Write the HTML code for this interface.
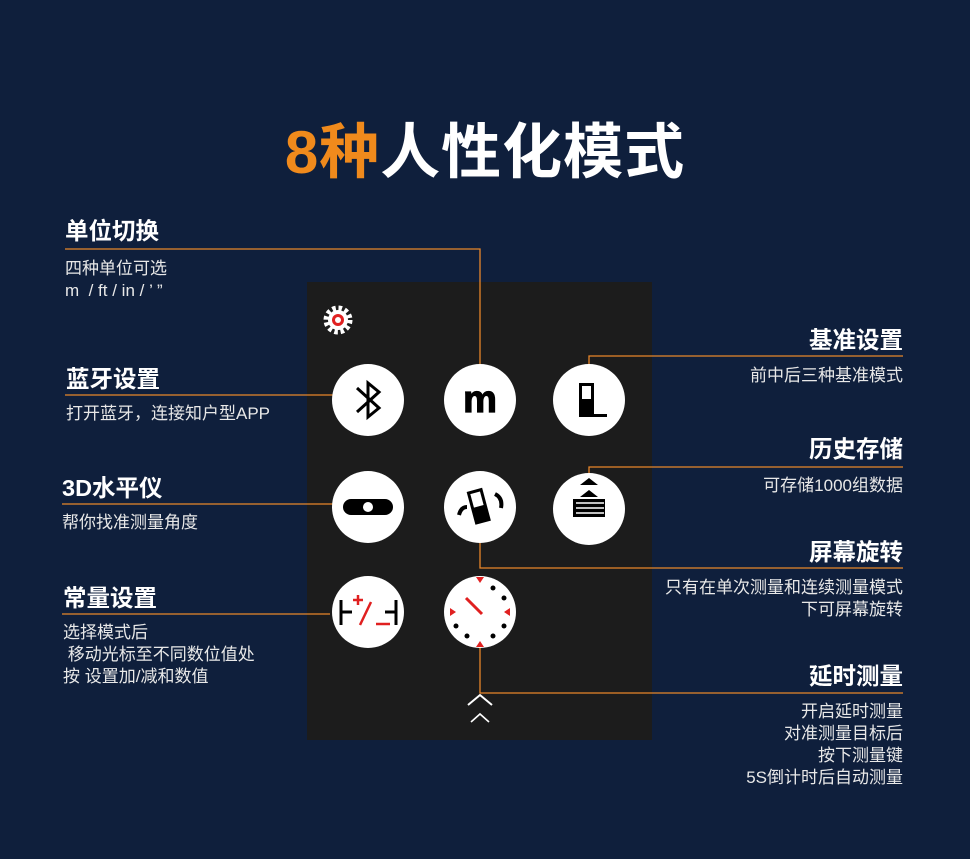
<!DOCTYPE html>
<html><head><meta charset="utf-8"><style>
body{margin:0;width:970px;height:859px;background:#0f1f3c;position:relative;overflow:hidden;font-family:"Liberation Sans","Noto Sans CJK SC",sans-serif;color:#fff}
.a{position:absolute;white-space:nowrap}
.t{font-size:23.5px;font-weight:bold}
.d{font-size:17px;line-height:22px;color:#e8e8e8}
.r{text-align:right}
</style></head><body>
<div class="a" style="left:0;width:970px;top:104px;text-align:center;font-size:60px;font-weight:bold;letter-spacing:1px"><span style="color:#f08a1c">8种</span>人性化模式</div>
<div class="a" style="left:307px;top:282px;width:345px;height:458px;background:#1c1c1c"></div>
<svg class="a" style="left:0;top:0" width="970" height="859">
<g stroke="#e8862a" stroke-width="1.3" fill="none">
<polyline points="65,249 480,249 480,365"/>
<line x1="65" y1="395" x2="333" y2="395"/>
<line x1="62" y1="504" x2="333" y2="504"/>
<line x1="62" y1="614" x2="330" y2="614"/>
<polyline points="903,356 589,356 589,365"/>
<polyline points="903,467 589,467 589,474"/>
<polyline points="480,543 480,568 903,568"/>
<polyline points="480,648 480,693 903,693"/>
</g>
<g fill="#fff">
<circle cx="368" cy="400" r="36"/><circle cx="480" cy="400" r="36"/><circle cx="589" cy="400" r="36"/>
<circle cx="368" cy="507" r="36"/><circle cx="480" cy="507" r="36"/><circle cx="589" cy="509" r="36"/>
<circle cx="368" cy="612" r="36"/><circle cx="480" cy="612" r="36"/>
</g>
<g transform="translate(338,320)"><circle r="12" fill="none" stroke="#fff" stroke-width="5" stroke-dasharray="3.5 2.8"/><circle r="10" fill="#fff"/><circle r="6" fill="#e02020"/><circle r="3" fill="#fff"/></g>
<polyline points="357,388 379,408 368,417 368,383 379,392 357,412" fill="none" stroke="#000" stroke-width="3"/>
<text x="480" y="412" font-size="38" font-weight="bold" text-anchor="middle" fill="#000" stroke="#000" stroke-width="1.2" font-family="Liberation Sans">m</text>
<rect x="579" y="383" width="15" height="34" fill="#000"/><rect x="582" y="386" width="9" height="13" fill="#fff"/><rect x="593" y="414" width="14" height="3" fill="#000"/>
<rect x="343" y="499" width="50" height="16" rx="8" fill="#000"/><circle cx="368" cy="507" r="5" fill="#fff"/>
<g transform="rotate(-15 480 507)"><rect x="471" y="489" width="16" height="34" fill="#000"/><rect x="474" y="492" width="10" height="14" fill="#fff"/></g>
<path d="M459 515 q2 -8 8 -8 M495 494 q8 4 6 14" stroke="#000" stroke-width="4" fill="none"/>
<path d="M580 497 l9 -7 l9 7z M580 485 l9 -7 l9 7z" fill="#000"/><rect x="573" y="499" width="32" height="18" fill="#000"/><g stroke="#fff" stroke-width="1.5"><line x1="576" y1="503" x2="604" y2="503"/><line x1="576" y1="508" x2="604" y2="508"/><line x1="576" y1="513" x2="604" y2="513"/></g>
<g stroke="#000" stroke-width="3"><line x1="341" y1="600" x2="341" y2="625"/><line x1="341" y1="612" x2="352" y2="612"/><line x1="396" y1="600" x2="396" y2="625"/><line x1="385" y1="612" x2="396" y2="612"/></g>
<g stroke="#e02020" stroke-width="2.5"><line x1="360" y1="625" x2="371" y2="602"/><line x1="353" y1="600" x2="363" y2="600"/><line x1="358" y1="595" x2="358" y2="605"/><line x1="376" y1="624" x2="390" y2="624"/></g>
<g fill="#e02020"><path d="M476 577h8l-4 6z"/><path d="M476 647h8l-4 -6z"/><path d="M450 608v8l6 -4z"/><path d="M510 608v8l-6 -4z"/></g>
<g fill="#000"><circle cx="493" cy="588" r="2.5"/><circle cx="504" cy="598" r="2.5"/><circle cx="504" cy="626" r="2.5"/><circle cx="493" cy="636" r="2.5"/><circle cx="467" cy="636" r="2.5"/><circle cx="456" cy="626" r="2.5"/></g>
<line x1="466" y1="598" x2="482" y2="614" stroke="#e02020" stroke-width="3"/>
<polyline points="468,705 480,695 492,705" fill="none" stroke="#fff" stroke-width="2"/>
<polyline points="471,722 480,714 489,722" fill="none" stroke="#fff" stroke-width="1.6"/>
</svg>
<div class="a t" style="left:65px;top:212px">单位切换</div>
<div class="a d" style="left:65px;top:258px">四种单位可选<br>m &nbsp;/ ft / in / ’ ”</div>
<div class="a t" style="left:66px;top:360px">蓝牙设置</div>
<div class="a d" style="left:66px;top:403px">打开蓝牙，连接知户型APP</div>
<div class="a t" style="left:62px;top:469px">3D水平仪</div>
<div class="a d" style="left:62px;top:512px">帮你找准测量角度</div>
<div class="a t" style="left:63px;top:579px">常量设置</div>
<div class="a d" style="left:63px;top:622px">选择模式后<br>&nbsp;移动光标至不同数位值处<br>按 设置加/减和数值</div>
<div class="a t r" style="right:67px;top:321px">基准设置</div>
<div class="a d r" style="right:67px;top:365px">前中后三种基准模式</div>
<div class="a t r" style="right:67px;top:430px">历史存储</div>
<div class="a d r" style="right:67px;top:475px">可存储1000组数据</div>
<div class="a t r" style="right:67px;top:533px">屏幕旋转</div>
<div class="a d r" style="right:67px;top:577px">只有在单次测量和连续测量模式<br>下可屏幕旋转</div>
<div class="a t r" style="right:67px;top:657px">延时测量</div>
<div class="a d r" style="right:67px;top:701px">开启延时测量<br>对准测量目标后<br>按下测量键<br>5S倒计时后自动测量</div>
</body></html>
